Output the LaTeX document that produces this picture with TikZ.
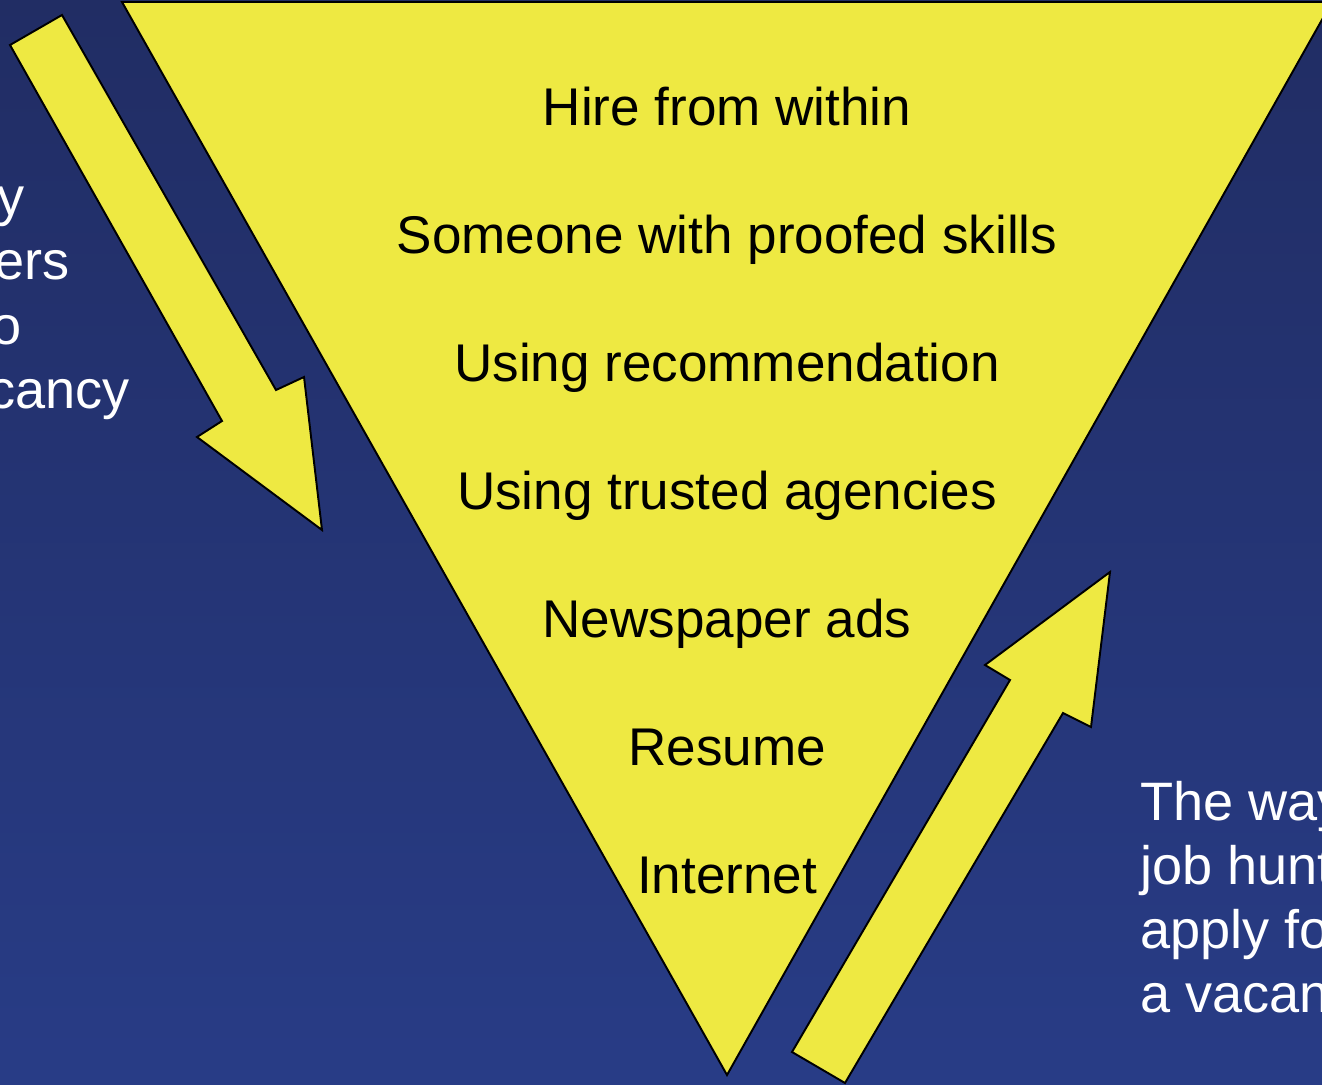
\documentclass[tikz,border=0pt]{standalone}
\usepackage{fontspec}
\setmainfont{Liberation Sans}
\definecolor{padyellow}{HTML}{EEE942}
\definecolor{bgtop}{HTML}{212D64}
\definecolor{bgbottom}{HTML}{283C86}
\tikzset{
  yellowpart/.style={fill=padyellow, draw=black, line width=1.1pt, line join=miter},
  rung/.style={anchor=base, inner sep=0pt, font=\fontsize{30.2}{36}\selectfont, text=black},
  side/.style={anchor=base west, inner sep=0pt, font=\fontsize{30.8}{36}\selectfont, text=white}
}

\begin{document}
\begin{tikzpicture}[x=0.02cm, y=-0.02cm]
          \useasboundingbox (0,0) rectangle (1322,1085);
          \clip (0,0) rectangle (1322,1085);
          \shade[top color=bgtop, bottom color=bgbottom] (0,0) rectangle (1322,1085);

          % funnel
          \draw[yellowpart] (122,2) -- (1332,2) -- (727,1075) -- cycle;

          % employers arrow (down)
          \draw[yellowpart] (10,45) -- (62,15) -- (276,390) -- (304,377) -- (322,530)
                       -- (197,437) -- (222,421) -- cycle;
          % job hunters arrow (up)
          \draw[yellowpart] (792,1052) -- (845,1083) -- (1063,713) -- (1091,727) -- (1110,572)
                       -- (985,665) -- (1010,680) -- cycle;

          \foreach \txt [count=\i] in {Hire from within, Someone with proofed skills,
              Using recommendation, Using trusted agencies, Newspaper ads, Resume, Internet}
            \node[rung] (way\i) at (727,125+128*\i-128) {\txt};

          \foreach \txt [count=\i] in {The way, employers, prefer to, fill a vacancy}
            \node[side] (emp\i) at (-180,215+64.5*\i-64.5) {\txt};

          \foreach \txt [count=\i] in {The way, job hunters, apply for, a vacancy}
            \node[side] (hunt\i) at (1140,820+64*\i-64) {\txt};
        \end{tikzpicture}
\end{document}
